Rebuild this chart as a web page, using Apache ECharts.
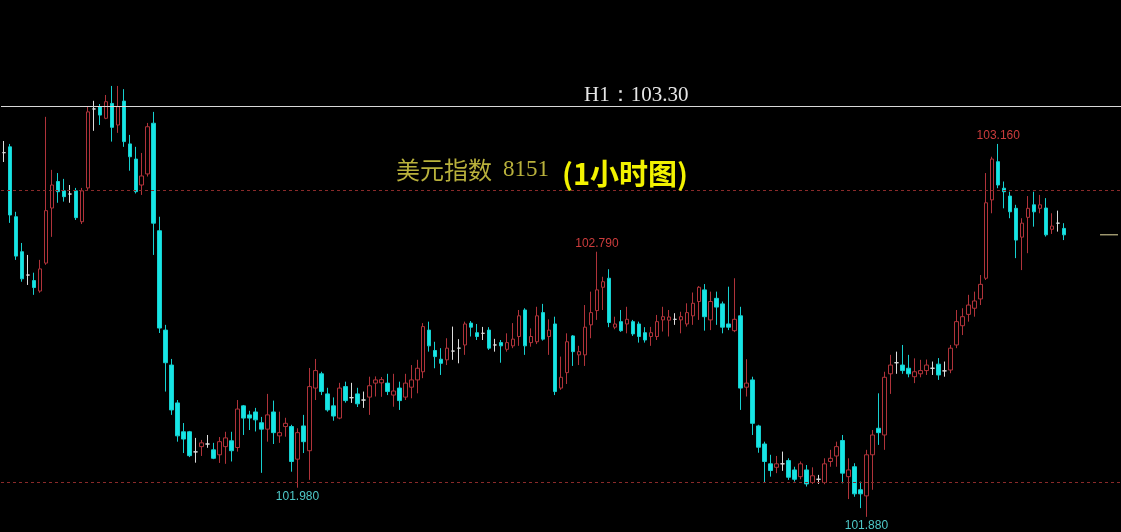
<!DOCTYPE html>
<html>
<head>
<meta charset="utf-8">
<script src="https://cdn.jsdelivr.net/npm/echarts@6/dist/echarts.min.js"></script>
<style>
html,body{margin:0;padding:0;background:#000;}
#chart{width:1121px;height:532px;}
</style>
</head>
<body>
<div id="chart"></div>
<script>
// hourly candles: [open, close, low, high]
const candles = [
[103.130,103.130,103.098,103.170],[103.150,102.916,102.889,103.160],[102.910,102.775,102.762,102.927],[102.790,102.697,102.687,102.820],
[102.710,102.710,102.676,102.779],[102.691,102.667,102.642,102.718],[102.655,102.731,102.649,102.762],[102.751,102.931,102.745,103.253],
[102.940,103.019,102.841,103.071],[103.031,102.996,102.958,103.060],[102.999,102.979,102.962,103.040],[102.988,102.988,102.958,103.019],
[102.999,102.907,102.899,103.009],[102.893,102.999,102.885,103.009],[103.009,103.270,103.002,103.288],[103.280,103.280,103.205,103.308],
[103.288,103.259,103.225,103.297],[103.248,103.305,103.245,103.328],[103.299,103.217,103.168,103.359],[103.225,103.288,103.198,103.359],
[103.307,103.168,103.150,103.348],[103.160,103.116,103.068,103.191],[103.108,102.996,102.990,103.150],[103.019,103.050,102.985,103.129],
[103.057,103.219,103.048,103.232],[103.231,102.888,102.779,103.270],[102.862,102.528,102.511,102.910],[102.521,102.409,102.310,102.539],
[102.401,102.247,102.230,102.422],[102.271,102.158,102.138,102.281],[102.172,102.147,102.099,102.202],[102.172,102.090,102.085,102.175],
[102.103,102.103,102.066,102.151],[102.121,102.134,102.089,102.144],[102.130,102.130,102.117,102.161],[102.110,102.081,102.078,102.134],
[102.093,102.138,102.065,102.154],[102.121,102.151,102.062,102.172],[102.141,102.107,102.070,102.172],[102.118,102.250,102.104,102.281],
[102.261,102.219,102.161,102.264],[102.230,102.219,102.178,102.244],[102.240,102.213,102.173,102.254],[102.203,102.181,102.031,102.223],
[102.181,102.230,102.138,102.302],[102.240,102.169,102.130,102.279],[102.158,102.169,102.134,102.241],[102.190,102.201,102.155,102.220],
[102.190,102.070,102.035,102.196],[102.078,102.169,101.980,102.184],[102.192,102.138,102.099,102.230],[102.107,102.327,102.007,102.391],
[102.322,102.382,102.281,102.422],[102.371,102.310,102.298,102.378],[102.302,102.247,102.241,102.323],[102.261,102.226,102.210,102.290],
[102.219,102.322,102.215,102.340],[102.327,102.279,102.272,102.344],[102.289,102.289,102.271,102.340],[102.302,102.268,102.257,102.323],
[102.281,102.281,102.254,102.310],[102.291,102.330,102.230,102.361],[102.339,102.350,102.293,102.362],[102.340,102.351,102.292,102.360],
[102.339,102.310,102.298,102.371],[102.298,102.312,102.258,102.371],[102.322,102.279,102.247,102.344],[102.291,102.339,102.281,102.371],
[102.325,102.350,102.287,102.401],[102.350,102.390,102.304,102.419],[102.378,102.533,102.356,102.545],[102.521,102.467,102.447,102.550],
[102.451,102.430,102.390,102.481],[102.421,102.407,102.367,102.459],[102.419,102.459,102.401,102.493],[102.449,102.449,102.419,102.533],
[102.459,102.459,102.407,102.490],[102.470,102.542,102.436,102.550],[102.545,102.531,102.499,102.552],[102.512,102.499,102.487,102.542],
[102.510,102.510,102.487,102.532],[102.521,102.459,102.453,102.531],[102.470,102.470,102.447,102.491],[102.478,102.467,102.409,102.487],
[102.455,102.478,102.447,102.510],[102.467,102.490,102.459,102.545],[102.499,102.570,102.467,102.590],[102.590,102.467,102.436,102.596],
[102.478,102.499,102.464,102.527],[102.481,102.570,102.473,102.601],[102.581,102.490,102.485,102.611],[102.499,102.521,102.436,102.558],
[102.542,102.310,102.298,102.567],[102.322,102.359,102.316,102.430],[102.375,102.481,102.336,102.510],[102.501,102.447,102.398,102.504],
[102.436,102.447,102.401,102.467],[102.436,102.531,102.398,102.607],[102.539,102.581,102.493,102.653],[102.588,102.659,102.556,102.790],
[102.668,102.687,102.590,102.704],[102.699,102.547,102.531,102.730],[102.531,102.542,102.524,102.567],[102.550,102.519,102.515,102.590],
[102.542,102.558,102.510,102.601],[102.550,102.508,102.501,102.556],[102.542,102.499,102.478,102.550],[102.512,102.487,102.478,102.531],
[102.499,102.512,102.467,102.532],[102.499,102.550,102.487,102.573],[102.556,102.567,102.516,102.601],[102.555,102.566,102.499,102.590],
[102.558,102.558,102.539,102.579],[102.556,102.567,102.510,102.584],[102.542,102.581,102.533,102.613],[102.570,102.613,102.539,102.650],
[102.619,102.668,102.556,102.672],[102.659,102.567,102.519,102.679],[102.556,102.619,102.521,102.653],[102.630,102.600,102.539,102.653],
[102.611,102.531,102.510,102.619],[102.542,102.531,102.521,102.670],[102.519,102.558,102.514,102.699],[102.570,102.322,102.247,102.601],
[102.325,102.339,102.293,102.421],[102.350,102.201,102.161,102.361],[102.192,102.119,102.100,102.196],[102.130,102.070,101.998,102.138],
[102.062,102.039,102.018,102.093],[102.050,102.062,102.030,102.089],[102.062,102.062,102.038,102.104],[102.073,102.016,102.007,102.081],
[102.041,102.009,102.001,102.052],[102.018,102.062,102.009,102.070],[102.041,101.993,101.984,102.058],[101.998,102.021,101.993,102.050],
[102.009,102.009,101.993,102.024],[101.998,102.062,101.992,102.081],[102.070,102.081,102.052,102.110],[102.089,102.121,102.052,102.138],
[102.142,102.030,101.995,102.161],[102.018,102.041,101.941,102.081],[102.052,101.959,101.949,102.064],[101.973,101.959,101.910,102.001],
[101.952,102.093,101.880,102.110],[102.093,102.161,101.973,102.178],[102.184,102.169,102.127,102.304],[102.161,102.359,102.110,102.378],
[102.371,102.401,102.302,102.436],[102.409,102.409,102.371,102.447],[102.401,102.382,102.371,102.470],[102.390,102.371,102.359,102.436],
[102.361,102.378,102.339,102.424],[102.371,102.382,102.359,102.419],[102.382,102.401,102.367,102.420],[102.390,102.390,102.367,102.413],
[102.404,102.367,102.350,102.425],[102.381,102.381,102.361,102.413],[102.384,102.459,102.373,102.470],[102.470,102.550,102.459,102.590],
[102.536,102.567,102.504,102.596],[102.575,102.607,102.550,102.642],[102.596,102.621,102.567,102.653],[102.628,102.678,102.607,102.710],
[102.699,102.958,102.693,103.060],[102.968,103.108,102.922,103.116],[103.099,103.019,103.008,103.160],[103.008,102.996,102.939,103.031],
[102.981,102.927,102.905,102.996],[102.939,102.830,102.768,102.951],[102.840,102.888,102.727,102.905],[102.908,102.939,102.785,102.981],
[102.951,102.927,102.876,102.996],[102.939,102.951,102.922,102.985],[102.940,102.848,102.842,102.974],[102.867,102.878,102.851,102.922],
[102.888,102.888,102.859,102.931],[102.870,102.848,102.830,102.888]
];
// hourly slots (visible bars plus empty slots to the right edge)
const slotCount = 187;
const categories = [];
for (let i = 0; i < slotCount; i++) categories.push('H' + (i + 1));

// horizontal reference levels
const h1Level = 103.29;
const h1Text = 'H1：103.30';
const dashedLevels = [103.00, 102.00];
// labelled extremes: [bar index, price, 'high'|'low']
const extremes = [[99, 102.790, 'high'], [166, 103.160, 'high'], [49, 101.980, 'low'], [144, 101.880, 'low']];
// price marker slots
const priceMarkFrom = 183, priceMarkTo = 186;
const yMin = 101.828, yMax = 103.654;

const lastClose = candles[candles.length - 1][1];
const priceMark = categories.map((c, i) => (i >= priceMarkFrom && i <= priceMarkTo) ? lastClose : '-');

const chart = echarts.init(document.getElementById('chart'), null, {renderer: 'canvas'});
chart.setOption({
  backgroundColor: '#000000',
  animation: false,
  title: [
    {text: h1Text, left: 579, top: 80,
     textStyle: {color: '#e6e6e6', fontSize: 21, fontWeight: 'normal', fontFamily: 'Liberation Serif'}},
    {text: '{cn|美元指数}{num|8151}', left: 391, top: 153,
     textStyle: {fontWeight: 'normal', rich: {
       cn: {color: '#b9b13c', fontSize: 24, fontFamily: 'Noto Sans CJK SC', fontWeight: 'normal'},
       num: {color: '#b9b13c', fontSize: 23, fontFamily: 'Liberation Serif', fontWeight: 'normal', padding: [0, 0, 0, 11]}
     }}},
    {text: '(1小时图)', left: 557, top: 154,
     textStyle: {color: '#f2f200', fontSize: 29, fontWeight: 'bold', fontFamily: 'Noto Sans CJK SC'}}
  ],
  grid: {left: 1, top: 0, width: 1122, height: 532},
  xAxis: {type: 'category', data: categories, boundaryGap: true, show: false},
  yAxis: {type: 'value', min: yMin, max: yMax, show: false, splitLine: {show: false}},
  series: [
    {
      type: 'candlestick',
      data: candles,
      barWidth: 4,
      itemStyle: {
        color: '#000000',
        color0: '#16e6e6',
        borderColor: '#b0333a',
        borderColor0: '#16d0d0',
        borderColorDoji: '#dddddd',
        borderWidth: 1
      },
      markLine: {
        silent: true,
        symbol: 'none',
        label: {show: false},
        data: [
          {yAxis: h1Level, lineStyle: {color: '#d8d8d8', type: 'solid', width: 1}},
          ...dashedLevels.map(v => ({yAxis: v, lineStyle: {color: '#8a2a2a', type: [3, 3], width: 1}}))
        ]
      },
      markPoint: {
        silent: true,
        symbol: 'circle',
        symbolSize: 1,
        itemStyle: {color: 'transparent'},
        data: extremes.map(e => ({
          coord: [categories[e[0]], e[1]],
          label: {
            show: true,
            formatter: e[1].toFixed(3),
            position: e[2] === 'high' ? 'top' : 'bottom',
            distance: 2,
            color: e[2] === 'high' ? '#cc3c3c' : '#4ec8c8',
            fontSize: 12,
            fontFamily: 'Liberation Sans'
          }
        }))
      }
    },
    {
      type: 'line',
      data: priceMark,
      symbol: 'none',
      silent: true,
      lineStyle: {color: '#e6dda0', width: 1}
    }
  ]
});
</script>
</body>
</html>
